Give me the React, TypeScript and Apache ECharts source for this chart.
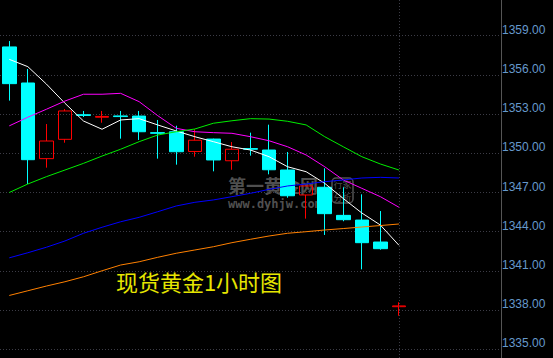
import React, { useEffect, useRef } from 'react';
import * as echarts from 'echarts';

// 22 hourly candles followed by 5 empty slots on the right
const categories = [
  'K1', 'K2', 'K3', 'K4', 'K5', 'K6', 'K7', 'K8', 'K9', 'K10', 'K11',
  'K12', 'K13', 'K14', 'K15', 'K16', 'K17', 'K18', 'K19', 'K20', 'K21', 'K22',
  'E1', 'E2', 'E3', 'E4', 'E5',
];

const opens = [
  1358.14, 1355.38, 1349.59, 1351.07, 1352.95, 1352.76, 1352.86, 1352.85, 1351.58, 1351.65, 1350.14,
  1351.09, 1349.43, 1350.36, 1350.25, 1348.72, 1346.81, 1347.4, 1345.25, 1344.89, 1343.21, 1338.26,
];
const closes = [
  1355.33, 1349.51, 1350.94, 1353.24, 1352.9, 1352.82, 1352.81, 1351.65, 1351.53, 1350.12, 1351.0,
  1349.49, 1350.31, 1350.31, 1348.74, 1346.75, 1347.5, 1345.38, 1344.92, 1343.16, 1342.7, 1338.32,
];
const lows = [
  1354.03, 1347.65, 1348.9, 1350.81, 1352.78, 1352.34, 1351.12, 1351.02, 1349.59, 1349.13, 1349.74,
  1348.62, 1348.74, 1349.82, 1348.39, 1346.6, 1345.0, 1343.75, 1344.8, 1341.12, 1342.62, 1337.57,
];
const highs = [
  1358.59, 1356.45, 1352.24, 1353.39, 1353.24, 1353.24, 1353.24, 1353.24, 1352.55, 1352.11, 1351.84,
  1351.12, 1350.86, 1351.58, 1352.19, 1350.1, 1347.52, 1348.85, 1347.4, 1346.86, 1345.58, 1338.6,
];

const maWhite = [
  1357.19, 1356.63, 1355.3, 1353.83, 1352.47, 1351.84, 1352.55, 1352.65, 1352.17, 1351.71, 1351.27,
  1350.89, 1350.5, 1350.25, 1349.74, 1348.97, 1348.59, 1347.7, 1346.54, 1345.43, 1344.51, 1342.96,
];
const maMagenta = [
  1352.1, 1352.76, 1353.37, 1354.0, 1354.52, 1354.52, 1354.59, 1353.95, 1352.88, 1351.91, 1351.65,
  1351.58, 1351.53, 1351.27, 1350.96, 1350.5, 1349.87, 1348.97, 1347.96, 1347.32, 1346.68, 1345.87,
];
const maGreen = [
  1347.0, 1347.65, 1348.21, 1348.72, 1349.23, 1349.79, 1350.31, 1350.89, 1351.4, 1351.65, 1351.86,
  1352.3, 1352.49, 1352.65, 1352.62, 1352.45, 1352.17, 1351.27, 1350.5, 1349.74, 1349.18, 1348.72,
];
const maBlue = [
  1342.0, 1342.39, 1342.81, 1343.29, 1343.88, 1344.34, 1344.76, 1345.1, 1345.53, 1345.97, 1346.25,
  1346.43, 1346.68, 1346.94, 1347.24, 1347.5, 1347.65, 1347.83, 1347.96, 1348.11, 1348.16, 1348.11,
];
const maOrange = [
  1339.12, 1339.48, 1339.84, 1340.17, 1340.55, 1341.01, 1341.45, 1341.7, 1342.04, 1342.35, 1342.6,
  1342.85, 1343.16, 1343.42, 1343.67, 1343.88, 1344.0, 1344.13, 1344.24, 1344.36, 1344.47, 1344.59,
];

const tickMin = 1335;
const tickMax = 1359;
const tickStep = 3;
const viewMin = 1334.334;
const viewMax = 1361.732;

const titleText = '现货黄金1小时图';
const watermarkMain = '第一黄金网';
const watermarkUrl = 'www.dyhjw.com';

export default function App() {
  const ref = useRef<HTMLDivElement>(null);

  useEffect(() => {
    if (!ref.current) return;
    const chart = echarts.init(ref.current, null, { renderer: 'svg' });
    const candleData = opens.map((o, i) => [o, closes[i], lows[i], highs[i]]);
    const line = (name: string, data: number[], color: string) => ({
      type: 'line',
      name,
      xAxisIndex: 1,
      yAxisIndex: 1,
      data,
      symbol: 'none',
      showSymbol: false,
      silent: true,
      z: 4,
      lineStyle: { color, width: 1 },
      itemStyle: { color },
    });
    const wmColor = 'rgba(150,150,150,0.55)';

    chart.setOption({
      animation: false,
      backgroundColor: '#000000',
      grid: [
        { left: -7, width: 508, top: 35.7, height: 313.6 },
        { left: -7, width: 508, top: 0, height: 358 },
      ],
      xAxis: [
        { type: 'category', gridIndex: 0, data: categories, show: false },
        { type: 'category', gridIndex: 1, data: categories, show: false },
      ],
      yAxis: [
        {
          type: 'value',
          gridIndex: 0,
          position: 'right',
          min: tickMin,
          max: tickMax,
          interval: tickStep,
          axisLine: { show: false },
          axisTick: { show: false },
          axisLabel: {
            show: true,
            margin: 1,
            align: 'left',
            verticalAlign: 'bottom',
            color: '#6699cc',
            fontSize: 12,
            fontFamily: 'Liberation Sans',
            showMinLabel: true,
            showMaxLabel: true,
            formatter: (v: number) => v.toFixed(2),
          },
          splitLine: { show: true, lineStyle: { color: '#3c3c46', type: [1, 2], width: 1 } },
        },
        {
          type: 'value',
          gridIndex: 1,
          position: 'right',
          min: viewMin,
          max: viewMax,
          axisLine: { show: true, lineStyle: { color: '#555555', width: 1 } },
          axisTick: { show: false },
          axisLabel: { show: false },
          splitLine: { show: false },
        },
      ],
      graphic: [
        {
          type: 'text',
          z: 0,
          x: 228,
          y: 184.5,
          style: {
            text: watermarkMain,
            fill: wmColor,
            fontSize: 18,
            fontWeight: 'bold',
            fontFamily: 'Noto Sans CJK SC',
            verticalAlign: 'middle',
          },
        },
        {
          type: 'text',
          z: 0,
          x: 228,
          y: 204,
          style: {
            text: watermarkUrl,
            fill: wmColor,
            fontSize: 12,
            fontWeight: 'bold',
            fontFamily: 'DejaVu Sans Mono',
            verticalAlign: 'middle',
          },
        },
        {
          type: 'rect',
          z: 0,
          shape: { x: 332, y: 178, width: 21, height: 25, r: 4 },
          style: { fill: 'none', stroke: wmColor, lineWidth: 1.5 },
        },
        {
          type: 'text',
          z: 0,
          x: 342.5,
          y: 184.5,
          style: {
            text: '行家',
            fill: wmColor,
            fontSize: 9,
            fontFamily: 'Noto Sans CJK SC',
            align: 'center',
            verticalAlign: 'middle',
          },
        },
        {
          type: 'text',
          z: 0,
          x: 342.5,
          y: 197,
          style: {
            text: '分析',
            fill: wmColor,
            fontSize: 9,
            fontFamily: 'Noto Sans CJK SC',
            align: 'center',
            verticalAlign: 'middle',
          },
        },
        {
          type: 'text',
          z: 10,
          x: 199,
          y: 281,
          style: {
            text: titleText,
            fill: '#e6e600',
            fontSize: 22,
            fontFamily: 'Noto Sans CJK SC',
            align: 'center',
            verticalAlign: 'middle',
          },
        },
      ],
      series: [
        {
          type: 'candlestick',
          name: 'XAUUSD 1H',
          xAxisIndex: 1,
          yAxisIndex: 1,
          data: candleData,
          barWidth: 14,
          z: 3,
          silent: true,
          itemStyle: {
            color: 'transparent',
            color0: '#00ffff',
            borderColor: '#ff0000',
            borderColor0: '#00ffff',
            borderWidth: 1,
          },
          markLine: {
            silent: true,
            symbol: ['none', 'none'],
            label: { show: false },
            lineStyle: { color: '#3c3c46', type: [1, 2], width: 1 },
            data: [{ xAxis: 'K22' }],
          },
        },
        line('MA5', maWhite, '#ffffff'),
        line('MA10', maMagenta, '#ff00ff'),
        line('MA20', maGreen, '#00ee00'),
        line('MA60', maBlue, '#0000ff'),
        line('MA120', maOrange, '#ff8000'),
      ],
    });

    return () => chart.dispose();
  }, []);

  return (
    <div
      ref={ref}
      style={{ position: 'fixed', left: 0, top: 0, width: 553, height: 358 }}
    />
  );
}
